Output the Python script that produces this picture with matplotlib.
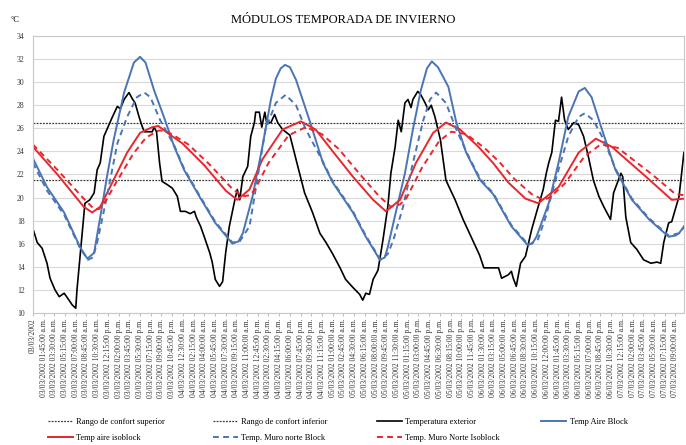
import numpy as np
import pandas as pd
import matplotlib
matplotlib.use("Agg")
import matplotlib.pyplot as plt

plt.rcParams['font.family'] = ['Liberation Serif', 'DejaVu Serif']

# hours since 03/03/2002 00:00
ext_h = [0, 0.7, 1.5, 2.3, 2.8, 3.6, 4.3, 5.1, 5.9, 6.4, 7.0, 7.2, 7.7, 8.5, 9.3, 10.0, 10.5, 11.0, 11.6, 12.1,
         13.0, 13.8, 14.3, 14.9, 15.7, 16.2, 16.7, 17.4, 17.9, 18.2, 19.5, 19.8, 20.2, 20.7, 21.1, 22.0, 22.8,
         23.6, 24.1, 24.9, 25.7, 26.4, 26.7, 27.4, 28.0, 28.9, 29.3, 29.8, 30.5, 31.0, 31.5, 32.1, 33.0, 33.4,
         33.8, 34.3, 35.1, 35.6, 36.2, 36.4, 37.0, 37.4, 37.9, 38.2, 38.9, 39.5, 40.0, 40.8, 42.0, 43.0, 44.4,
         45.7, 46.9, 47.9, 49.0, 50.2, 51.1, 52.3, 53.4, 53.9, 54.4, 55.0, 55.6, 56.4, 57.2, 58.0, 58.5, 59.2,
         59.7, 60.2, 60.8, 61.3, 61.8, 62.1, 62.9, 63.4, 64.1, 64.6, 65.1, 65.7, 66.6, 67.5, 69.0, 70.3, 71.6,
         73.0, 73.7, 76.1, 76.6, 77.7, 78.2, 78.5, 79.0, 79.7, 80.5, 81.5, 82.3, 83.4, 83.9, 84.3, 84.8, 85.4,
         85.9, 86.4, 86.9, 87.5, 88.4, 89.2, 90.0, 90.8, 91.6, 92.5, 93.3, 94.4, 94.9, 96.1, 96.4, 96.9, 97.7,
         98.7, 99.8, 101.0, 102.0, 102.6, 103.1, 103.9, 104.4, 105.6, 106.4]
ext_t = [17.3, 16.1, 15.6, 14.3, 13.0, 12.0, 11.4, 11.7, 11.1, 10.7, 10.4, 12.0, 14.9, 19.5, 19.8, 20.4, 22.4, 23.0,
         25.3, 25.9, 27.0, 27.9, 27.7, 28.5, 29.1, 28.6, 28.2, 26.9, 26.1, 25.7, 25.7, 26.1, 25.7, 23.0, 21.4,
         21.1, 20.8, 20.1, 18.8, 18.8, 18.6, 18.8, 18.3, 17.5, 16.6, 15.2, 14.4, 12.9, 12.3, 12.7, 15.2, 17.5,
         19.8, 20.7, 19.8, 21.8, 22.7, 25.3, 26.5, 27.4, 27.4, 26.1, 27.4, 26.5, 26.5, 27.2, 26.5, 25.9, 25.4,
         23.3, 20.4, 18.7, 16.9, 16.1, 15.1, 13.9, 12.9, 12.2, 11.6, 11.1, 11.7, 11.6, 12.9, 13.7, 16.3, 19.2,
         22.1, 24.4, 26.7, 25.7, 28.2, 28.5, 27.8, 28.5, 29.2, 28.9, 28.2, 27.6, 28.0, 27.0, 25.0, 21.5, 19.8,
         18.1, 16.6, 15.0, 13.9, 13.9, 13.0, 13.3, 13.6, 13.0, 12.3, 14.3, 14.9, 17.2, 18.7, 20.7, 22.1, 23.0,
         23.9, 26.7, 26.6, 28.7, 26.7, 25.9, 26.5, 26.3, 25.3, 23.5, 21.5, 20.1, 19.2, 18.1, 20.4, 22.1, 21.8,
         18.3, 16.1, 15.5, 14.6, 14.3, 14.4, 14.3, 16.1, 17.8, 17.9, 20.1, 23.9]

aire_block_h = [0, 2.3, 5.1, 7.7, 8.9, 10.0, 11.0, 12.1, 13.2, 14.9, 16.5, 17.5, 18.4, 19.8, 21.4, 23.1, 24.7, 27.2,
                29.8, 32.6, 33.6, 34.3, 35.9, 37.5, 38.9, 39.7, 40.5, 41.2, 42.0, 43.0, 45.2, 47.4, 49.0, 52.3,
                54.4, 56.7, 57.5, 58.0, 59.3, 60.8, 62.1, 63.4, 64.4, 65.2, 66.2, 67.9, 69.2, 70.8, 73.1, 75.2,
                78.2, 80.8, 81.6, 82.3, 84.3, 85.9, 87.5, 89.2, 90.2, 91.3, 93.0, 95.2, 97.9, 100.7, 103.9, 105.0,
                105.6, 106.4]
aire_block_t = [23.4, 20.9, 18.7, 15.7, 14.7, 15.2, 18.3, 21.8, 25.0, 29.1, 31.7, 32.2, 31.7, 29.3, 27.0, 24.4,
                22.4, 20.1, 17.8, 16.0, 16.2, 16.9, 20.1, 24.4, 28.5, 30.3, 31.2, 31.5, 31.3, 30.2, 26.7, 23.0,
                21.3, 18.7, 16.6, 14.6, 14.8, 15.7, 18.7, 22.1, 25.9, 29.3, 31.2, 31.8, 31.3, 29.6, 26.5, 23.9,
                21.5, 20.3, 17.5, 15.9, 16.0, 16.6, 19.5, 23.0, 27.0, 29.2, 29.5, 28.7, 25.9, 22.4, 19.8, 18.1,
                16.6, 16.7, 16.9, 17.5]

muro_block_h = [0, 2.3, 5.1, 7.7, 9.0, 9.8, 10.5, 12.1, 13.8, 15.4, 17.0, 18.2, 19.2, 20.8, 23.1, 24.7, 27.2,
                29.8, 32.6, 33.8, 35.4, 36.4, 38.0, 39.7, 41.3, 43.0, 44.6, 47.4, 49.0, 52.3, 54.4, 56.8, 58.0,
                58.9, 60.5, 62.1, 63.8, 64.9, 65.9, 67.5, 69.2, 70.8, 73.1, 75.2, 78.2, 81.0, 82.5, 83.8, 85.4,
                87.5, 89.2, 90.2, 91.6, 93.3, 95.2, 97.9, 100.7, 103.9, 105.6, 106.4]
muro_block_t = [23.0, 20.6, 18.5, 15.6, 14.6, 14.8, 16.1, 20.1, 24.7, 27.0, 28.7, 29.1, 28.7, 26.7, 24.5, 22.5,
                20.2, 17.9, 16.1, 16.2, 17.5, 20.7, 25.9, 28.2, 28.9, 28.0, 25.9, 23.1, 21.4, 18.8, 16.7, 14.6,
                15.1, 16.3, 19.2, 23.0, 26.7, 28.5, 29.1, 28.2, 25.9, 24.0, 21.6, 20.4, 17.6, 15.9, 16.3, 18.3,
                21.5, 25.3, 27.0, 27.3, 26.7, 25.0, 22.5, 19.9, 18.2, 16.7, 16.9, 17.4]

aire_iso_h = [0, 4.0, 8.3, 9.7, 11.0, 12.6, 15.4, 17.5, 19.5, 20.5, 22.0, 24.4, 28.0, 31.5, 33.4, 35.4, 37.5,
              40.8, 43.8, 46.2, 49.0, 52.3, 55.6, 57.7, 60.0, 62.6, 65.4, 67.5, 69.8, 72.8, 75.2, 77.7, 80.5,
              82.6, 85.9, 89.2, 92.0, 94.6, 100.2, 104.4, 106.4]
aire_iso_t = [24.4, 22.0, 19.2, 18.7, 19.2, 20.9, 23.9, 25.6, 26.1, 26.2, 25.6, 24.7, 22.8, 20.6, 19.8, 20.7,
              23.3, 25.9, 26.6, 25.9, 24.0, 21.8, 19.8, 18.8, 19.8, 23.0, 25.6, 26.5, 25.9, 24.4, 23.0, 21.3,
              19.9, 19.5, 20.9, 23.9, 25.1, 24.4, 21.8, 19.8, 19.9]

muro_iso_h = [0, 4.0, 8.3, 10.0, 10.8, 12.0, 13.6, 16.4, 18.5, 20.5, 21.5, 23.0, 25.4, 29.0, 32.5, 34.3, 35.5,
              36.4, 38.5, 41.8, 44.6, 47.2, 50.0, 53.3, 56.6, 58.5, 60.0, 61.0, 63.6, 66.4, 68.4, 70.8, 73.8,
              76.2, 78.7, 81.5, 83.4, 84.5, 86.9, 90.2, 92.8, 95.6, 101.2, 105.0, 106.4]
muro_iso_t = [24.6, 22.4, 19.9, 19.0, 19.0, 19.8, 21.3, 23.8, 25.2, 25.8, 25.8, 25.4, 24.6, 22.8, 20.8, 20.1,
              20.2, 20.8, 23.0, 25.4, 26.1, 25.5, 24.2, 22.1, 20.1, 19.2, 19.4, 19.9, 22.6, 24.9, 25.7, 25.5,
              24.3, 23.1, 21.6, 20.3, 19.8, 20.0, 21.2, 23.6, 24.6, 24.3, 22.0, 20.3, 20.2]

confort_sup = 26.5
confort_inf = 21.5

tick_times = pd.date_range('2002-03-03 00:00', '2002-03-07 09:00', freq='105min')


def fmt_label(t):
    if t.hour == 0 and t.minute == 0:
        return t.strftime('%d/%m/%Y')
    suf = 'a.m.' if t.hour < 12 else 'p.m.'
    return t.strftime('%d/%m/%Y %I:%M:%S ') + suf


tick_pos = [(t - tick_times[0]).total_seconds() / 3600 for t in tick_times]
tick_lab = [fmt_label(t) for t in tick_times]

fig = plt.figure(figsize=(6.86, 4.45), dpi=100)
ax = fig.add_axes([0.048, 0.297, 0.949, 0.622])

blue = '#4a74b4'
red = '#e8262d'

l_sup = ax.axhline(confort_sup, color='#3a3a3a', lw=0.9, ls=(0, (1.5, 1)))
l_inf = ax.axhline(confort_inf, color='#3a3a3a', lw=0.9, ls=(0, (1.5, 1)))
l_ext, = ax.plot(ext_h, ext_t, color='black', lw=1.2)
l_ab, = ax.plot(aire_block_h, aire_block_t, color=blue, lw=1.4)
l_ai, = ax.plot(aire_iso_h, aire_iso_t, color=red, lw=1.4)
l_mb, = ax.plot(muro_block_h, muro_block_t, color=blue, lw=1.4, ls=(0, (3, 2.2)))
l_mi, = ax.plot(muro_iso_h, muro_iso_t, color=red, lw=1.4, ls=(0, (3, 2.2)))

ax.set_xlim(0, 106.4)
ax.set_ylim(10, 34)
ax.set_yticks(np.arange(10, 35, 2))
ax.set_xticks(tick_pos)
ax.set_xticklabels(tick_lab, rotation=90, fontsize=5.5, color='#333333')
ax.tick_params(axis='y', length=0, labelsize=5.5, labelcolor='#333333', pad=6)
ax.tick_params(axis='x', length=2, color='#bfbfbf', pad=2)
ax.grid(axis='y', color='#d9d9d9', lw=0.8)
ax.set_axisbelow(True)
for s in ax.spines.values():
    s.set_color('#c8c8c8')
    s.set_linewidth(0.8)

fig.text(0.5, 0.955, 'MÓDULOS TEMPORADA DE INVIERNO', ha='center', va='center', fontsize=9)
fig.text(0.022, 0.955, '°C', ha='center', va='center', fontsize=6)

cols = [
    [(l_sup, 'Rango de confort superior'), (l_ai, 'Temp aire isoblock')],
    [(l_inf, 'Rango de confort inferior'), (l_mb, 'Temp. Muro norte Block')],
    [(l_ext, 'Temperatura exterior'), (l_mi, 'Temp. Muro Norte Isoblock')],
    [(l_ab, 'Temp Aire Block')],
]
xs = [0.07, 0.31, 0.549, 0.789]
for x0, col in zip(xs, cols):
    fig.legend([c[0] for c in col], [c[1] for c in col], loc='upper left',
               bbox_to_anchor=(x0, 0.06), frameon=False, fontsize=6,
               handlelength=3.0, handletextpad=0.4, labelspacing=0.9,
               borderpad=0, borderaxespad=0)

fig.savefig('out.png', dpi=100)
